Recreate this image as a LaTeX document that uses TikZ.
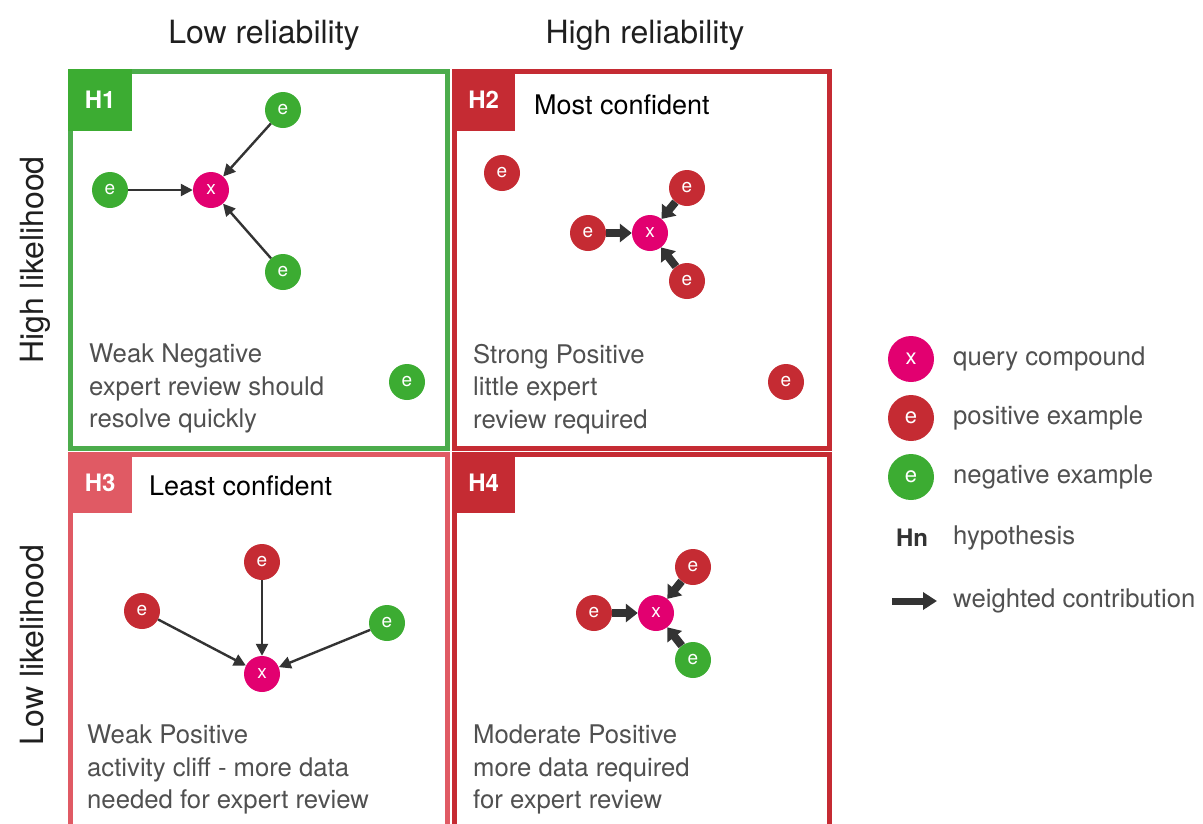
\documentclass[tikz,border=0pt]{standalone}
\usepackage{fontspec}
\setmainfont{TeX Gyre Heros}
\usetikzlibrary{arrows.meta}
\definecolor{gr}{RGB}{60,172,50}
\definecolor{grb}{RGB}{76,172,76}
\definecolor{rd}{RGB}{197,43,51}
\definecolor{pk}{RGB}{224,90,100}
\definecolor{mg}{RGB}{226,0,112}
\definecolor{ar}{RGB}{51,51,51}
\definecolor{tx}{RGB}{80,80,80}
\begin{document}
\begin{tikzpicture}[x=1pt,y=-1pt,
 ball/.style={circle,minimum size=36pt,inner sep=0pt,text=white,font=\fontsize{19}{19}\selectfont},
 qball/.style={ball,fill=mg},
 posball/.style={ball,fill=rd},
 negball/.style={ball,fill=gr},
 bigball/.style={minimum size=46pt,font=\fontsize{22}{22}\selectfont},
 thinarrow/.style={draw=ar,line width=2.4pt,-{Triangle[length=12pt,width=12pt]}},
 thickarrow/.style={draw=ar,line width=8pt,-{Triangle[length=12pt,width=18pt]}},
 tab/.style={text=white,font=\fontsize{24}{24}\selectfont\bfseries,inner sep=0pt,minimum width=64pt,minimum height=62pt,anchor=north west},
 desc/.style={text=tx,align=left,anchor=north west,inner sep=0pt,font=\fontsize{25.7}{32.3}\selectfont},
 head/.style={font=\fontsize{32}{32}\selectfont,text=black!88,anchor=base,inner sep=0pt},
 title/.style={font=\fontsize{27}{27}\selectfont,text=black,anchor=west,inner sep=0pt},
 legtext/.style={text=tx,anchor=west,inner sep=0pt,font=\fontsize{25.7}{32}\selectfont},
 panel/.style={line width=5pt}]
\useasboundingbox (0,0) rectangle (1203,823);
% headers
\node[head] (hlr) at (264,43) {Low reliability};
\node[head] (hhr) at (645,43) {High reliability};
\node[head,rotate=90] (hhl) at (43,260) {High likelihood};
\node[head,rotate=90] (hll) at (43,645) {Low likelihood};
% panels
\begin{scope}
\clip (0,0) rectangle (1203,823);
\draw[panel,grb] (70.5,71.5) rectangle (447.5,448.5);
\draw[panel,rd] (454.5,71.5) rectangle (829.5,448.5);
\draw[panel,pk] (70.5,454.5) rectangle (447.5,840);
\draw[panel,rd] (454.5,454.5) rectangle (829.5,840);
\end{scope}
% tabs
\node[tab,fill=gr] (t1) at (68,69) {H1};
\node[tab,fill=rd,minimum width=63pt] (t2) at (452,69) {H2};
\node[tab,fill=pk,minimum height=61pt] (t3) at (68,452) {H3};
\node[tab,fill=rd,minimum width=63pt,minimum height=61pt] (t4) at (452,452) {H4};
\node[title] (ti2) at (534,105) {Most confident};
\node[title] (ti3) at (149,486) {Least confident};
% H1
\node[qball] (x1) at (211,190) {x};
\node[negball] (a1) at (110,190) {e};
\node[negball] (b1) at (283,110) {e};
\node[negball] (c1) at (283,272) {e};
\node[negball] (d1) at (407,382) {e};
\draw[thinarrow] (a1) -- (x1);
\draw[thinarrow] (b1) -- (x1);
\draw[thinarrow] (c1) -- (x1);
\node[desc] (s1) at (89,344) {Weak Negative\\expert review should\\resolve quickly};
% H2
\node[qball] (x2) at (650,233) {x};
\node[posball] (a2) at (588,233) {e};
\node[posball] (b2) at (687,188) {e};
\node[posball] (c2) at (687,281) {e};
\node[posball] (d2) at (502,173) {e};
\node[posball] (e2) at (786,382) {e};
\draw[thickarrow] (a2) -- (x2);
\draw[thickarrow] (b2) -- (x2);
\draw[thickarrow] (c2) -- (x2);
\node[desc] (s2) at (473,344) {Strong Positive\\little expert\\review required};
% H3
\node[qball] (x3) at (262,674) {x};
\node[posball] (a3) at (142,611) {e};
\node[posball] (b3) at (262,562) {e};
\node[negball] (c3) at (387,623) {e};
\draw[thinarrow] (a3) -- (x3);
\draw[thinarrow] (b3) -- (x3);
\draw[thinarrow] (c3) -- (x3);
\node[desc] (s3) at (87,725) {Weak Positive\\activity cliff - more data\\needed for expert review};
% H4
\node[qball] (x4) at (656,613) {x};
\node[posball] (a4) at (594,613) {e};
\node[posball] (b4) at (693,567) {e};
\node[negball] (c4) at (693,660) {e};
\draw[thickarrow] (a4) -- (x4);
\draw[thickarrow] (b4) -- (x4);
\draw[thickarrow] (c4) -- (x4);
\node[desc] (s4) at (473,725) {Moderate Positive\\more data required\\for expert review};
% legend
\node[qball,bigball] (lx) at (911,359) {x};
\node[posball,bigball] (lp) at (911,418) {e};
\node[negball,bigball] (ln) at (911,477) {e};
\node[font=\fontsize{24}{24}\selectfont\bfseries,text=black!80,inner sep=0pt] (lh) at (912,538) {Hn};
\coordinate (la1) at (892,601);
\coordinate (la2) at (937,601);
\draw[thickarrow,line width=7pt,-{Triangle[length=14pt,width=17pt]}] (la1) -- (la2);
\node[legtext] (tlx) at (953,359) {query compound};
\node[legtext] (tlp) at (953,418) {positive example};
\node[legtext] (tln) at (953,477) {negative example};
\node[legtext] (tlh) at (953,538) {hypothesis};
\node[legtext] (tla) at (953,601) {weighted contribution};
\end{tikzpicture}
\end{document}
